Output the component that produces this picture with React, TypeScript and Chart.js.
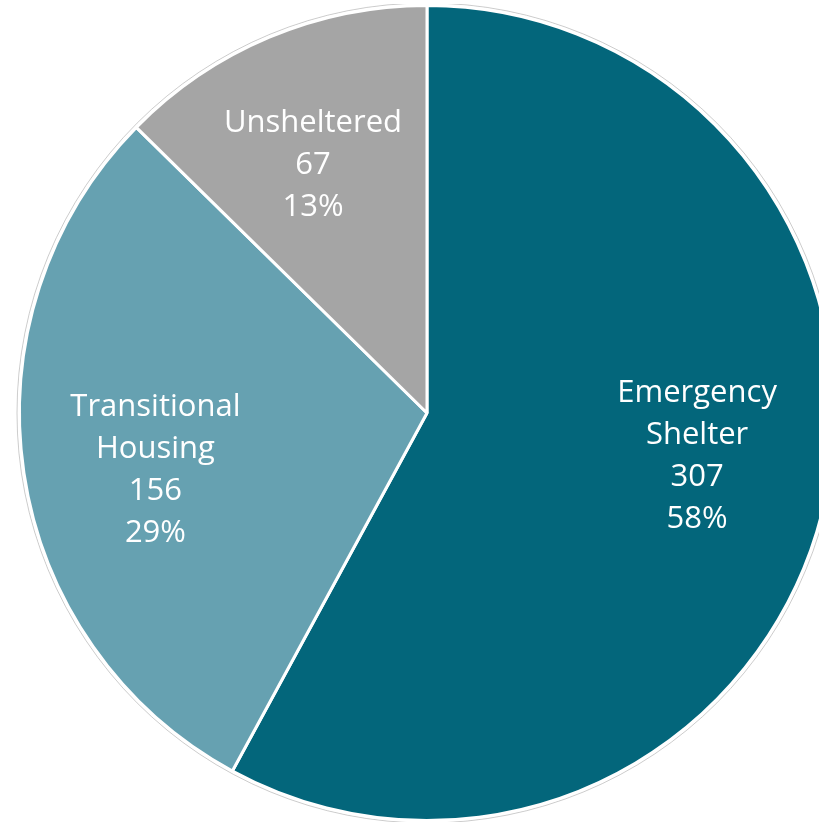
import React, { useEffect, useRef } from "react";
import { Chart, registerables } from "chart.js";

Chart.register(...registerables);

const categories = ["Emergency Shelter", "Transitional Housing", "Unsheltered"];
const labelLines = [["Emergency", "Shelter"], ["Transitional", "Housing"], ["Unsheltered"]];
const values = [307, 156, 67];
const colors = ["#03667B", "#66A1B1", "#A5A5A5"];

const FONT = "'Open Sans', 'Noto Sans', sans-serif";

const labelPlugin = {
  id: "sliceLabels",
  beforeDatasetsDraw(chart: any) {
    const meta = chart.getDatasetMeta(0);
    const arc = meta.data[0];
    if (!arc) return;
    const { x, y, outerRadius } = arc.getProps(["x", "y", "outerRadius"], true);
    const ctx = chart.ctx;
    ctx.save();
    ctx.beginPath();
    ctx.arc(x, y, outerRadius + 2.5, 0, Math.PI * 2);
    ctx.strokeStyle = "rgba(170,170,170,0.6)";
    ctx.lineWidth = 1;
    ctx.stroke();
    ctx.restore();
  },
  afterDatasetsDraw(chart: any) {
    const meta = chart.getDatasetMeta(0);
    const data = chart.data.datasets[0].data as number[];
    const total = data.reduce((a, b) => a + b, 0);
    const ctx = chart.ctx;
    ctx.save();
    ctx.fillStyle = "#FFFFFF";
    ctx.textAlign = "center";
    ctx.textBaseline = "middle";
    ctx.font = `31px ${FONT}`;
    const lineH = 42;
    meta.data.forEach((el: any, i: number) => {
      const { x, y, startAngle, endAngle, outerRadius } = el.getProps(
        ["x", "y", "startAngle", "endAngle", "outerRadius"],
        true
      );
      const span = endAngle - startAngle;
      const mid = (startAngle + endAngle) / 2 - span * 0.028;
      const d = outerRadius * 0.675;
      const cx = x + Math.cos(mid) * d - 2;
      const cy = y + Math.sin(mid) * d + 3;
      const lines = [...labelLines[i], String(data[i]), `${Math.round((data[i] / total) * 100)}%`];
      const top = cy - ((lines.length - 1) * lineH) / 2;
      lines.forEach((t, j) => ctx.fillText(t, cx, top + j * lineH));
    });
    ctx.restore();
  },
};

export default function App() {
  const ref = useRef<HTMLCanvasElement | null>(null);
  useEffect(() => {
    if (!ref.current) return;
    const chart = new Chart(ref.current, {
      type: "pie",
      data: {
        labels: categories,
        datasets: [
          {
            data: values,
            backgroundColor: colors,
            borderColor: "#FFFFFF",
            borderWidth: 3,
          },
        ],
      },
      options: {
        animation: false,
        responsive: true,
        maintainAspectRatio: false,
        layout: { padding: 0 },
        plugins: {
          legend: { display: false },
          tooltip: { enabled: false },
        },
      },
      plugins: [labelPlugin],
    });
    return () => chart.destroy();
  }, []);
  return (
    <div style={{ position: "absolute", left: 0, top: 4, width: 854, height: 818 }}>
      <canvas ref={ref} />
    </div>
  );
}
